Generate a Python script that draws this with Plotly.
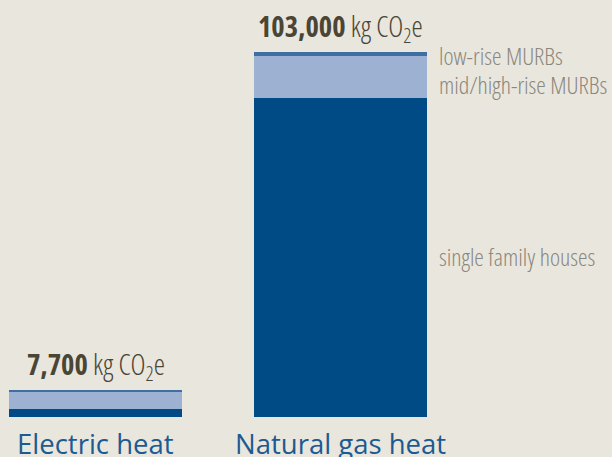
import plotly.graph_objects as go

categories = ["Electric heat", "Natural gas heat"]
single_family = [2200, 90000]
mid_high_murbs = [4800, 11800]
low_rise_murbs = [700, 1200]
totals = [7700, 103000]
total_labels = ["7,700", "103,000"]
segment_names = ["single family houses", "mid/high-rise MURBs", "low-rise MURBs"]

BG = "#E9E6DE"
DARK = "#004A85"
LIGHT = "#9DB2D2"
MED = "#3E6FA2"
xs = [0, 1]
W = 0.706
COND = "font-stretch:75%;"

fig = go.Figure()
for vals, col, name in [(single_family, DARK, segment_names[0]),
                        (mid_high_murbs, LIGHT, segment_names[1]),
                        (low_rise_murbs, MED, segment_names[2])]:
    fig.add_trace(go.Bar(x=xs, y=vals, width=W, marker=dict(color=col, line=dict(width=0)),
                         name=name, hoverinfo="skip"))

ann = []
for i, x in enumerate(xs):
    ann.append(dict(x=x, y=0, xref="x", yref="y", yanchor="top", yshift=-6,
                    text=categories[i], showarrow=False,
                    font=dict(family="Open Sans", size=27.5, color="#1C5A91")))
    ann.append(dict(x=x - W / 2 + (16 if i == 0 else 2) / 245, y=totals[i], xref="x", yref="y",
                    xanchor="left", yanchor="bottom", yshift=1,
                    text=f"<span style='{COND}font-weight:700'>{total_labels[i]}</span>"
                         f"<span style='{COND}font-weight:300'> kg CO<sub>2</sub>e</span>",
                    showarrow=False,
                    font=dict(family="Open Sans", size=28.5, color="#4A4535")))

gx = 1 + W / 2 + 10 / 245
sf = single_family[1]
mh = mid_high_murbs[1]
lr = low_rise_murbs[1]
seg_y = [sf / 2, sf + mh / 2, sf + mh + lr / 2]
seg_shift = [1, -7, -1]
for name, y, s in zip(segment_names, seg_y, seg_shift):
    ann.append(dict(x=gx, y=y, xref="x", yref="y", xanchor="left", yanchor="middle", yshift=s,
                    text=f"<span style='{COND}font-weight:300'>{name}</span>", showarrow=False,
                    font=dict(family="Open Sans", size=24, color="#8A877C")))

fig.update_layout(
    width=612, height=457, barmode="stack", showlegend=False,
    paper_bgcolor=BG, plot_bgcolor=BG,
    margin=dict(l=0, r=0, t=0, b=40),
    xaxis=dict(range=[-95.5 / 245, 516.5 / 245], visible=False, fixedrange=True),
    yaxis=dict(range=[0, 117674], visible=False, fixedrange=True),
    annotations=ann,
    bargap=0,
)
fig.write_html("out.html", config={"displayModeBar": False},
               post_script="document.body.style.margin='0';document.body.style.background='%s';" % BG)
